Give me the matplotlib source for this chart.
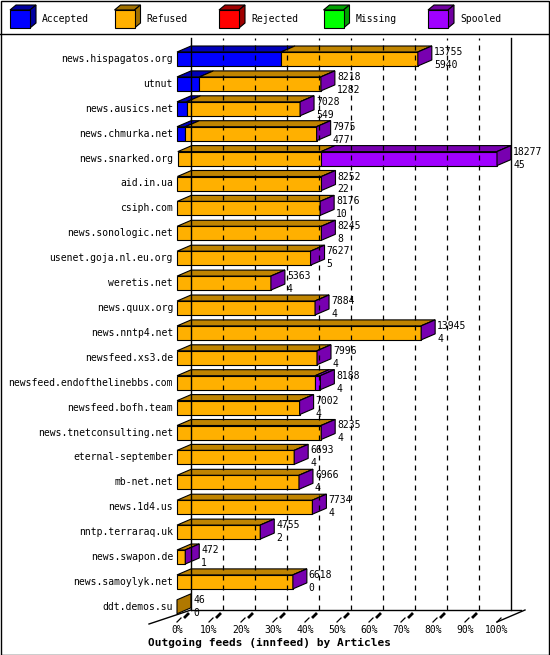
import matplotlib.pyplot as plt
from matplotlib.patches import Polygon, Rectangle

# Data
hosts = ['news.hispagatos.org', 'utnut', 'news.ausics.net', 'news.chmurka.net',
         'news.snarked.org', 'aid.in.ua', 'csiph.com', 'news.sonologic.net',
         'usenet.goja.nl.eu.org', 'weretis.net', 'news.quux.org', 'news.nntp4.net',
         'newsfeed.xs3.de', 'newsfeed.endofthelinebbs.com', 'newsfeed.bofh.team',
         'news.tnetconsulting.net', 'eternal-september', 'mb-net.net', 'news.1d4.us',
         'nntp.terraraq.uk', 'news.swapon.de', 'news.samoylyk.net', 'ddt.demos.su']
offered = [13755, 8218, 7028, 7975, 18277, 8252, 8176, 8245, 7627, 5363, 7884, 13945,
           7996, 8188, 7002, 8235, 6693, 6966, 7734, 4755, 472, 6618, 46]
accepted = [5940, 1282, 549, 477, 45, 22, 10, 8, 5, 4, 4, 4,
            4, 4, 4, 4, 4, 4, 4, 2, 1, 0, 0]
spooled = [0, 0, 0, 0, 10050, 0, 0, 0, 0, 0, 0, 0,
           0, 300, 0, 0, 0, 0, 0, 0, 0, 0, 0]
legend_names = ['Accepted', 'Refused', 'Rejected', 'Missing', 'Spooled']

front = {'acc': '#0000ff', 'ref': '#ffb000', 'spo': '#a000ff'}
top = {'acc': '#0000b8', 'ref': '#c08400', 'spo': '#7800b0'}
leg_front = ['#0000ff', '#ffb000', '#ff0000', '#00ff00', '#a000ff']
leg_side = ['#0000a0', '#a07000', '#a00000', '#00a000', '#7000a0']

W, H = 550, 655
fig = plt.figure(figsize=(W / 100, H / 100), dpi=100)
mono = 'DejaVu Sans Mono'
fs = 7.0

# axes: x in percent, y in rows
row_px = 24.9
y0_px, y1_px = 35, 615
ax = fig.add_axes([177 / W, 1 - y1_px / H, 320 / W, (y1_px - y0_px) / H])
ax.set_xlim(0, 100)
ax.set_ylim((y1_px - 59) / row_px, (y0_px - 59) / row_px)
ax.axis('off')

px = 100 / 320  # one pixel in x units
py = 1 / row_px  # one pixel in y units
dx = 14 * px
dy = 6 * py
bh = 14 * py
maxv = max(offered)

floor = (618 - 59) * py
back = floor - 8 * py
top_wall = (38 - 59) * py
# back wall / grid
ax.plot([dx, dx], [back, top_wall], color='black', lw=1, clip_on=False)
ax.plot([100 + dx, 100 + dx], [back, top_wall], color='black', lw=1, clip_on=False)
for k in range(1, 10):
    ax.plot([10 * k + dx] * 2, [back, top_wall], color='black', lw=0.9,
            ls=(0, (4, 4)), clip_on=False)
# floor
ax.plot([-28 * px, dx], [floor + 6 * py, back], color='black', lw=1, clip_on=False)
ax.plot([dx, 100 + dx + 10 * px], [back, back], color='black', lw=1, clip_on=False)
ax.plot([100, 100 + dx + 14 * px], [floor + 4 * py, back], color='black', lw=1, clip_on=False)
for k in range(11):
    x = 10 * k
    ax.plot([x, x + 4 * px], [floor + 4 * py, floor], color='black', lw=0.9, clip_on=False)
    if k < 10:
        ax.plot([x + 8 * px, x + 11 * px], [floor - 1 * py, floor - 4 * py], color='black',
                lw=2, clip_on=False)
    ax.text(x, floor + 12 * py, f'{x}%', ha='center', va='center', fontsize=fs,
            family=mono, clip_on=False)
ax.text((148 - 177) * px, floor + 25 * py, 'Outgoing feeds (innfeed) by Articles',
        ha='left', va='center', fontsize=8, family=mono, fontweight='bold', clip_on=False)


def box(x0, x1, c, key, side=None):
    t, b = c - bh / 2, c + bh / 2
    ax.add_patch(Polygon([(x0, t), (x1, t), (x1 + dx, t - dy), (x0 + dx, t - dy)],
                         closed=True, fc=top[key], ec='black', lw=0.8, clip_on=False))
    if x1 > x0:
        ax.add_patch(Rectangle((x0, t), x1 - x0, bh, fc=front[key], ec='black',
                               lw=0.8, clip_on=False))
    if side:
        ax.add_patch(Polygon([(x1, t), (x1 + dx, t - dy), (x1 + dx, b - dy), (x1, b)],
                             closed=True, fc=side, ec='black', lw=0.8, clip_on=False))


for i, h in enumerate(hosts):
    a = accepted[i] / maxv * 100
    s = spooled[i] / maxv * 100
    tot = offered[i] / maxv * 100
    if offered[i] < 100:
        ax.add_patch(Polygon([(0, i + bh / 2), (dx, i + bh / 2 - dy), (dx, i - bh / 2 - dy),
                              (0, i - bh / 2)], closed=True, fc='#b07800', ec='black',
                             lw=0.8, clip_on=False))
    else:
        if a > 0.5:
            box(0, a, i, 'acc')
        box(a, tot - s, i, 'ref')
        if s > 0:
            box(tot - s, tot, i, 'spo')
        box(tot, tot, i, 'spo', side='#7800b0')
    xe = tot + dx + 2 * px
    ax.text(xe, i - 7 * py, str(offered[i]), fontsize=fs, family=mono, va='center',
            ha='left', clip_on=False)
    ax.text(xe, i + 6 * py, str(accepted[i]), fontsize=fs, family=mono, va='center',
            ha='left', clip_on=False)
    ax.text(-4 * px, i, h, fontsize=fs, family=mono, va='center', ha='right',
            clip_on=False)

# figure frame and legend
fig.add_artist(Rectangle((0.5 / W, 0.5 / H), 1 - 1.5 / W, 1 - 1.5 / H, fill=False,
                         ec='black', lw=1, transform=fig.transFigure))
fig.add_artist(plt.Line2D([0, 1], [1 - 34 / H] * 2, color='black', lw=1,
                          transform=fig.transFigure))
for k, name in enumerate(legend_names):
    lx = 10 + k * 104.5
    fx, fy = lx / W, 1 - 28 / H
    fw, fh = 20 / W, 18 / H
    ox, oy = 6 / W, 5 / H
    fig.add_artist(Polygon([(fx, fy + fh), (fx + fw, fy + fh), (fx + fw + ox, fy + fh + oy),
                            (fx + ox, fy + fh + oy)], closed=True, fc=leg_side[k], ec='black',
                           lw=0.8, transform=fig.transFigure))
    fig.add_artist(Polygon([(fx + fw, fy), (fx + fw + ox, fy + oy), (fx + fw + ox, fy + fh + oy),
                            (fx + fw, fy + fh)], closed=True, fc=leg_side[k], ec='black',
                           lw=0.8, transform=fig.transFigure))
    fig.add_artist(Rectangle((fx, fy), fw, fh, fc=leg_front[k], ec='black', lw=0.8,
                             transform=fig.transFigure))
    fig.text((lx + 32) / W, 1 - 19 / H, name, fontsize=fs, family=mono, va='center')

fig.savefig('out.png', dpi=100)
